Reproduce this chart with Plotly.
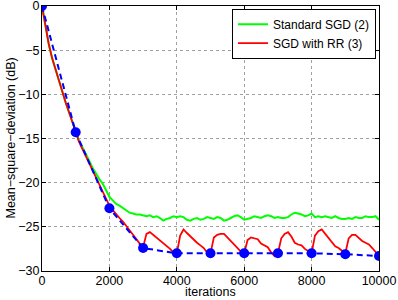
import plotly.graph_objects as go

iters = list(range(0, 10001, 100))

red_rr = [0, -2.3, -4.3, -5.9, -7.2, -8.5, -9.7, -10.9, -12.0, -13.1,
          -14.2, -15.4, -16.2, -17.0, -17.9, -18.7, -19.5, -20.3, -21.0, -21.8,
          -22.6, -23.1, -23.6, -24.0, -24.4, -24.9, -25.5, -26.0, -26.5, -26.9,
          -27.3, -25.8, -25.6, -25.9, -26.2, -26.5, -26.9, -27.2, -27.5, -27.9,
          -28.0, -26.0, -25.3, -25.7, -26.1, -26.5, -26.8, -27.1, -27.4, -27.9,
          -28.0, -26.2, -25.9, -25.8, -25.8, -26.2, -26.6, -27.0, -27.4, -27.8,
          -28.0, -26.5, -26.2, -26.3, -26.4, -26.9, -27.1, -27.3, -27.9, -28.3,
          -28.0, -26.3, -25.8, -25.6, -26.1, -26.8, -27.0, -27.1, -27.5, -27.8,
          -28.0, -26.0, -25.5, -25.3, -25.8, -26.3, -26.8, -27.2, -27.4, -27.7,
          -28.0, -26.3, -25.9, -25.9, -26.3, -26.6, -26.8, -27.0, -27.4, -27.9,
          -28.3]

green_sgd = [0, -2.3, -4.3, -5.9, -7.2, -8.5, -9.7, -10.9, -12.0, -13.1,
             -14.2, -15.3, -16.0, -16.7, -17.5, -18.3, -19.0, -19.6, -20.1, -20.9,
             -21.6, -22.0, -22.4, -22.6, -22.9, -23.1, -23.4, -23.5, -23.6, -23.6,
             -23.7, -23.8, -23.7, -23.9, -23.8, -24.0, -24.3, -24.1, -24.0, -23.8,
             -23.9, -23.8, -23.9, -24.2, -24.3, -24.1, -24.0, -24.2, -24.1, -23.9,
             -24.0, -24.1, -23.9, -24.0, -24.3, -24.2, -24.0, -23.8, -23.7, -23.9,
             -24.2, -24.1, -24.0, -23.8, -23.9, -24.0, -23.8, -23.7, -23.8, -24.0,
             -23.9, -24.0, -24.0, -23.9, -23.6, -23.4, -23.5, -23.6, -23.8, -23.7,
             -23.5, -23.9, -23.8, -23.9, -23.8, -23.9, -24.0, -23.8, -24.0, -24.1,
             -24.1, -24.0, -24.1, -23.9, -24.0, -24.0, -23.8, -23.9, -23.9, -23.8,
             -24.2]

restart_iters = list(range(0, 10001, 1000))
restart_vals = [0, -14.3, -22.9, -27.4, -28.0, -28.0, -28.0, -28.0, -28.0, -28.1, -28.3]

x_ticks = [0, 2000, 4000, 6000, 8000, 10000]
y_ticks = [-30, -25, -20, -15, -10, -5, 0]
y_labels = ["\u221230", "\u221225", "\u221220", "\u221215", "\u221210", "\u22125", "0"]

font = "Liberation Sans, Arial, Helvetica, sans-serif"
fs = 12.5

fig = go.Figure()
fig.add_trace(go.Scatter(x=iters, y=green_sgd, mode="lines", name="Standard SGD (2)",
                         line=dict(color="#00FF00", width=2)))
fig.add_trace(go.Scatter(x=iters, y=red_rr, mode="lines", name="SGD with RR (3)",
                         line=dict(color="#FF0000", width=1.8)))
fig.add_trace(go.Scatter(x=restart_iters, y=restart_vals, mode="lines+markers",
                         showlegend=False,
                         line=dict(color="#0000FF", width=2, dash="6px,4px"),
                         marker=dict(color="#0000FF", size=10)))

axis_common = dict(showline=True, linecolor="black", linewidth=1, mirror="ticks",
                   ticks="inside", ticklen=4, tickcolor="black", automargin=False,
                   showgrid=True, gridcolor="#A0A0A0", griddash="dot", gridwidth=1,
                   zeroline=False, ticklabeloverflow="allow",
                   tickfont=dict(size=fs, color="black", family=font))

fig.update_xaxes(range=[0, 10000], tickvals=x_ticks, ticktext=[str(v) for v in x_ticks],
                 ticklabelstandoff=-2, **axis_common)
fig.update_yaxes(range=[-30, 0], tickvals=y_ticks, ticktext=y_labels,
                 ticklabelstandoff=-1, **axis_common)

fig.add_annotation(text="iterations", xref="paper", yref="paper", x=0.5, y=0,
                   xanchor="center", yanchor="middle", yshift=-21, showarrow=False,
                   font=dict(size=fs, color="black", family=font))
fig.add_annotation(text="Mean\u2212square\u2212deviation (dB)", xref="paper", yref="paper",
                   x=0, y=0.5, xanchor="center", yanchor="middle", xshift=-32,
                   textangle=-90, showarrow=False,
                   font=dict(size=fs, color="black", family=font))

fig.update_layout(
    width=398, height=300,
    margin=dict(l=42, r=19, t=6, b=29),
    paper_bgcolor="white", plot_bgcolor="white",
    font=dict(family=font, size=fs, color="black"),
    legend=dict(x=0.991, y=0.99, xanchor="right", yanchor="top",
                bgcolor="white", bordercolor="black", borderwidth=1,
                font=dict(size=12, family=font, color="black"),
                tracegroupgap=0, itemwidth=30),
    showlegend=True,
)

fig.write_html("out.html", config={"displayModeBar": False},
               post_script="document.body.style.margin='0px';document.body.style.overflow='hidden';")
